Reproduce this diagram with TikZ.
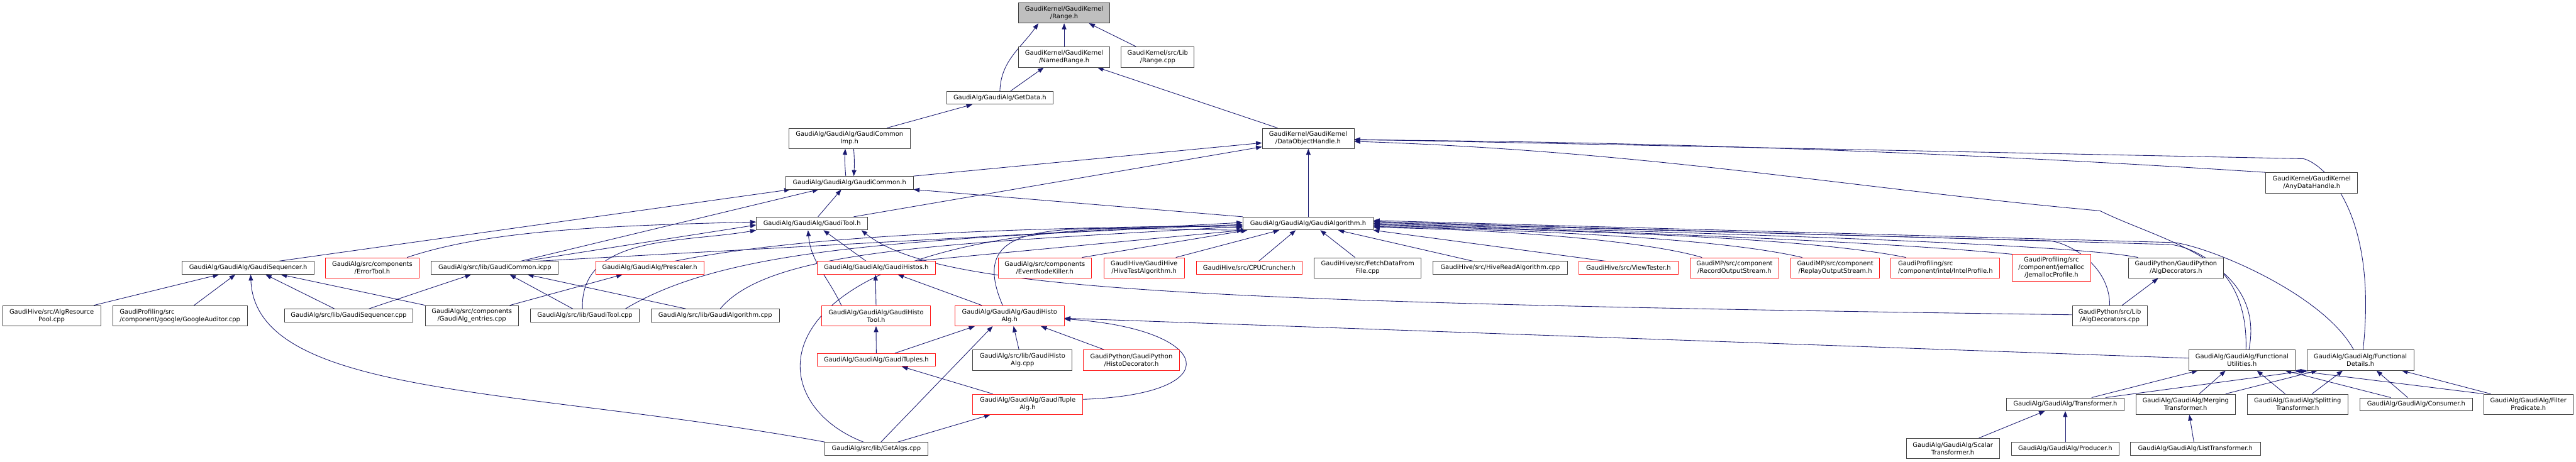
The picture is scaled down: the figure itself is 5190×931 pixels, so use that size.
\documentclass[tikz,border=0pt]{standalone}
\usepackage{fontspec}
\setmainfont{DejaVu Sans}
\usetikzlibrary{arrows.meta}
\definecolor{edgeblue}{RGB}{25,25,112}
\pgfdeclarelayer{bg}
\pgfdeclarelayer{edges}
\pgfsetlayers{bg,edges,main}
\tikzset{
  file/.style={draw=black!75, line width=1.1pt, fill=white, inner sep=0pt, align=center,
    font=\fontsize{12.6}{15.2}\selectfont},
  trunc/.style={file, draw=red!90},
  root/.style={file, fill=black!25},
  one/.style={minimum height=26pt},
  two/.style={minimum height=41pt},
  three/.style={minimum height=54pt},
  inc/.style={edgeblue, line width=1.1pt, -{Triangle[length=12pt,width=9pt]}},
}

\begin{document}
\begin{tikzpicture}[x=1pt, y=-1pt]
  \begin{pgfonlayer}{bg}
    \fill[white] (0,0) rectangle (5190,931);
  \end{pgfonlayer}
  \node[root, two, minimum width=184pt] (range) at (2144,26) {GaudiKernel/GaudiKernel\\/Range.h};
  \node[file, two, minimum width=184pt] (named) at (2144,115) {GaudiKernel/GaudiKernel\\/NamedRange.h};
  \node[file, two, minimum width=147pt] (rcpp) at (2332.5,115) {GaudiKernel/src/Lib\\/Range.cpp};
  \node[file, one, minimum width=215pt] (getdata) at (2014.5,197) {GaudiAlg/GaudiAlg/GetData.h};
  \node[file, two, minimum width=245pt] (cimp) at (1711.5,279) {GaudiAlg/GaudiAlg/GaudiCommon\\Imp.h};
  \node[file, two, minimum width=185pt] (doh) at (2635.5,279) {GaudiKernel/GaudiKernel\\/DataObjectHandle.h};
  \node[file, one, minimum width=257pt] (common) at (1711.5,368.5) {GaudiAlg/GaudiAlg/GaudiCommon.h};
  \node[file, two, minimum width=185pt] (anyh) at (4657.5,368.5) {GaudiKernel/GaudiKernel\\/AnyDataHandle.h};
  \node[file, one, minimum width=224pt] (tool) at (1636,450.5) {GaudiAlg/GaudiAlg/GaudiTool.h};
  \node[file, one, minimum width=263pt] (alg) at (2635.5,450.5) {GaudiAlg/GaudiAlg/GaudiAlgorithm.h};

  \node[file, one, minimum width=266pt] (seqh) at (500,540) {GaudiAlg/GaudiAlg/GaudiSequencer.h};
  \node[trunc, two, minimum width=188pt] (errtool) at (750,540) {GaudiAlg/src/components\\/ErrorTool.h};
  \node[file, one, minimum width=256pt] (icpp) at (997,540) {GaudiAlg/src/lib/GaudiCommon.icpp};
  \node[trunc, one, minimum width=218pt] (presc) at (1309,540) {GaudiAlg/GaudiAlg/Prescaler.h};
  \node[trunc, one, minimum width=239pt] (histos) at (1765.5,540) {GaudiAlg/GaudiAlg/GaudiHistos.h};
  \node[trunc, two, minimum width=188pt] (enk) at (2105,540) {GaudiAlg/src/components\\/EventNodeKiller.h};
  \node[trunc, two, minimum width=162pt] (hivetest) at (2305,540) {GaudiHive/GaudiHive\\/HiveTestAlgorithm.h};
  \node[trunc, one, minimum width=214pt] (cpu) at (2517,540) {GaudiHive/src/CPUCruncher.h};
  \node[file, two, minimum width=215pt] (fetch) at (2755.5,540) {GaudiHive/src/FetchDataFrom\\File.cpp};
  \node[file, one, minimum width=271pt] (hiveread) at (3022.5,540) {GaudiHive/src/HiveReadAlgorithm.cpp};
  \node[trunc, one, minimum width=200pt] (view) at (3281,540) {GaudiHive/src/ViewTester.h};
  \node[trunc, two, minimum width=179pt] (record) at (3494.5,540) {GaudiMP/src/component\\/RecordOutputStream.h};
  \node[trunc, two, minimum width=179pt] (replay) at (3697.5,540) {GaudiMP/src/component\\/ReplayOutputStream.h};
  \node[trunc, two, minimum width=219pt, align=left] (intel) at (3919.5,540) {GaudiProfiling/src\\/component/intel/IntelProfile.h};
  \node[trunc, three, minimum width=158pt] (jemalloc) at (4133,540) {GaudiProfiling/src\\/component/jemalloc\\/JemallocProfile.h};
  \node[file, two, minimum width=192pt] (algdech) at (4384,540) {GaudiPython/GaudiPython\\/AlgDecorators.h};

  \node[file, two, minimum width=198pt] (pool) at (104,636.5) {GaudiHive/src/AlgResource\\Pool.cpp};
  \node[file, two, minimum width=271pt, align=left] (google) at (362.5,636.5) {GaudiProfiling/src\\/component/google/GoogleAuditor.cpp};
  \node[file, one, minimum width=259pt] (seqcpp) at (702.5,636) {GaudiAlg/src/lib/GaudiSequencer.cpp};
  \node[file, two, minimum width=187pt] (entries) at (950.5,636.5) {GaudiAlg/src/components\\/GaudiAlg\_entries.cpp};
  \node[file, one, minimum width=219pt] (toolcpp) at (1178.5,636) {GaudiAlg/src/lib/GaudiTool.cpp};
  \node[file, one, minimum width=258pt] (algcpp) at (1441,636) {GaudiAlg/src/lib/GaudiAlgorithm.cpp};
  \node[trunc, two, minimum width=220pt] (histotool) at (1765,636.5) {GaudiAlg/GaudiAlg/GaudiHisto\\Tool.h};
  \node[trunc, two, minimum width=220pt] (histoalg) at (2034,636.5) {GaudiAlg/GaudiAlg/GaudiHisto\\Alg.h};
  \node[file, two, minimum width=151pt] (algdeccpp) at (4250.5,636.5) {GaudiPython/src/Lib\\/AlgDecorators.cpp};

  \node[trunc, one, minimum width=239pt] (tuples) at (1765.5,725.5) {GaudiAlg/GaudiAlg/GaudiTuples.h};
  \node[file, two, minimum width=200pt] (histoalgcpp) at (2060,726) {GaudiAlg/src/lib/GaudiHisto\\Alg.cpp};
  \node[trunc, two, minimum width=193pt] (histodec) at (2279.5,726) {GaudiPython/GaudiPython\\/HistoDecorator.h};
  \node[file, two, minimum width=214pt] (futil) at (4517,726) {GaudiAlg/GaudiAlg/Functional\\Utilities.h};
  \node[file, two, minimum width=215pt] (fdet) at (4755.5,726) {GaudiAlg/GaudiAlg/Functional\\Details.h};

  \node[trunc, two, minimum width=221pt] (tuplealg) at (2070.5,815) {GaudiAlg/GaudiAlg/GaudiTuple\\Alg.h};
  \node[file, one, minimum width=236pt] (transf) at (4161,815) {GaudiAlg/GaudiAlg/Transformer.h};
  \node[file, two, minimum width=201pt] (merging) at (4403.5,815) {GaudiAlg/GaudiAlg/Merging\\Transformer.h};
  \node[file, two, minimum width=202pt] (splitting) at (4629,815) {GaudiAlg/GaudiAlg/Splitting\\Transformer.h};
  \node[file, one, minimum width=226pt] (consumer) at (4868,815) {GaudiAlg/GaudiAlg/Consumer.h};
  \node[file, two, minimum width=180pt] (filter) at (5094,815) {GaudiAlg/GaudiAlg/Filter\\Predicate.h};

  \node[file, one, minimum width=207pt] (getalgs) at (1765.5,904.5) {GaudiAlg/src/lib/GetAlgs.cpp};
  \node[file, two, minimum width=187pt] (scalar) at (3934.5,904) {GaudiAlg/GaudiAlg/Scalar\\Transformer.h};
  \node[file, one, minimum width=216pt] (producer) at (4161,904.5) {GaudiAlg/GaudiAlg/Producer.h};
  \node[file, one, minimum width=262pt] (listtr) at (4423,904.5) {GaudiAlg/GaudiAlg/ListTransformer.h};

  \begin{pgfonlayer}{edges}
  \foreach \s/\dx/\t/\dy in {named/0/range/0, rcpp/-43.5/range/50, getdata/21.5/named/-41,
      doh/-61.5/named/67, cimp/75.5/getdata/-55.5, alg/0.5/doh/0.5, tool/12/common/-16.5,
      icpp/52/common/-62.5, seqh/61/common/-119.5, histotool/0/histos/-1.5,
      histoalg/-56/histos/43.5, tuples/0/histotool/0, tuples/37.5/histoalg/-70,
      getalgs/9.5/histoalg/-34, histoalgcpp/-7/histoalg/8, histodec/-54.5/histoalg/63,
      tuplealg/-70.5/tuples/51.5, getalgs/43.5/tuplealg/-75.5, seqcpp/-28.5/seqh/35,
      pool/85/seqh/-59, google/28.5/seqh/-26, entries/-93.5/seqh/66, entries/76.5/presc/-55,
      seqcpp/40.5/icpp/-48, toolcpp/-24.5/icpp/30, algcpp/-59/icpp/66, histos/-20.5/tool/23,
      histos/76.5/alg/-131.5, enk/75/alg/-122.5, hivetest/64/alg/-58, cpu/19/alg/-25,
      fetch/-25.5/alg/24.5, hiveread/-54.5/alg/60.5, view/-46/alg/131.5,
      algdeccpp/25/algdech/-36, transf/53/futil/-89, transf/81/fdet/-107.5,
      merging/27.5/futil/-33, merging/80.5/fdet/-86.5, splitting/-25/futil/30,
      splitting/29/fdet/-35.5, consumer/-51/futil/87, consumer/-17/fdet/32.5,
      filter/-90/futil/107, filter/-76/fdet/83.5, listtr/-3/merging/7.5,
      scalar/52.5/transf/-41, producer/0/transf/0}
    \draw[inc] ([xshift=\dx pt]\s.north) -- ([xshift=\dy pt]\t.south);

  \draw[inc] (getdata.north) to[out=88,in=-125] ([xshift=-52pt]range.south);
  \draw[inc] ([xshift=-7.5pt]common.north) to[bend left=4] ([xshift=-8.5pt]cimp.south);
  \draw[inc] ([xshift=8.5pt]cimp.south) to[bend left=4] ([xshift=8.5pt]common.north);
  \draw[inc] (common.north east) -- ([yshift=-9pt]doh.west);
  \draw[inc] ([xshift=84pt]tool.north) -- ([yshift=-17pt]doh.west);
  \draw[inc] (anyh.north west) .. controls +(-612,-40) and +(612,4) .. ([yshift=-3pt]doh.east);
  \draw[inc] ([xshift=5.5pt]fdet.north) .. controls +(30,-280) and +(40,10) .. ++(-120,-385)
    -- ([yshift=-2pt]doh.east);
  \draw[inc] ([xshift=14pt]futil.north) .. controls +(35,-180) and +(120,60) .. ++(-300,-280)
    .. controls +(-500,-45) and +(600,20) .. ([yshift=-6pt]doh.east);
  \draw[inc] (alg.north west) -- (common.south east);
  \draw[inc] ([xshift=70pt]errtool.north) .. controls +(150,-50) and +(-350,8) .. ([yshift=3pt]tool.west);
  \draw[inc] ([xshift=60pt]icpp.north) -- ([yshift=-3pt]tool.west);
  \draw[inc] ([xshift=-5pt]toolcpp.north) .. controls +(-5,-150) and +(-150,26) .. (tool.south west);
  \draw[inc] ([xshift=-70pt]histotool.north) to[out=115,in=-85] ([xshift=-8pt]tool.south);
  \draw[inc] ([yshift=2pt]algdeccpp.west) .. controls +(-1800,-25) and +(150,120) .. ([xshift=-13pt]tool.south east);
  \draw[inc] (getalgs.north west) .. controls +(-600,-110) and +(10,250) .. ([xshift=5pt]seqh.south);
  \draw[inc] ([xshift=-26pt]getalgs.north) .. controls +(-239,-92) and +(-984,-28) .. ([yshift=-8pt]alg.west);
  \draw[inc] ([xshift=50pt]presc.north) .. controls +(250,-50) and +(-500,5) .. ([yshift=-4pt]alg.west);
  \draw[inc] ([xshift=81.5pt]toolcpp.north) .. controls +(200,-120) and +(-700,30) .. ([yshift=-2pt]alg.west);
  \draw[inc] ([xshift=10pt]algcpp.north) .. controls +(100,-120) and +(-600,35) .. ([yshift=-6pt]alg.west);
  \draw[inc] ([xshift=85pt]icpp.north) -- ([yshift=2pt]alg.west);
  \draw[inc] ([xshift=-14pt]histoalg.north) .. controls +(-80,-186) and +(-362,-3) .. ([xshift=8pt]alg.south west);
  \draw[inc] ([xshift=-65.5pt]record.north) .. controls +(-100,-30) and +(300,5) .. ([yshift=-8pt]alg.east);
  \draw[inc] ([xshift=-66.5pt]replay.north) .. controls +(-150,-35) and +(400,10) .. ([yshift=-6pt]alg.east);
  \draw[inc] ([xshift=-79.5pt]intel.north) .. controls +(-200,-40) and +(450,12) .. ([yshift=-4pt]alg.east);
  \draw[inc] (jemalloc.north west) .. controls +(-250,-25) and +(500,14) .. ([yshift=-2pt]alg.east);
  \draw[inc] ([xshift=20pt]algdech.north west) .. controls +(-150,-30) and +(550,16) .. (alg.east);
  \draw[inc] (algdeccpp.north) .. controls +(0,-80) and +(40,5) .. ++(-120,-130)
    -- ([yshift=2pt]alg.east);
  \draw[inc] ([xshift=8pt]futil.north) .. controls +(5,-160) and +(50,8) .. ++(-150,-212)
    -- ([yshift=4pt]alg.east);
  \draw[inc] ([xshift=-13.5pt]fdet.north) .. controls +(-60,-110) and +(80,12) .. ++(-360,-216)
    -- ([yshift=6pt]alg.east);
  \draw[inc] ([yshift=4pt]futil.west) -- ([yshift=-5pt]histoalg.east);
  \draw[inc] ([yshift=10pt]tuplealg.east) .. controls +(300,-10) and +(300,20) .. ([yshift=-6.5pt]histoalg.east);
  \end{pgfonlayer}
\end{tikzpicture}
\end{document}
